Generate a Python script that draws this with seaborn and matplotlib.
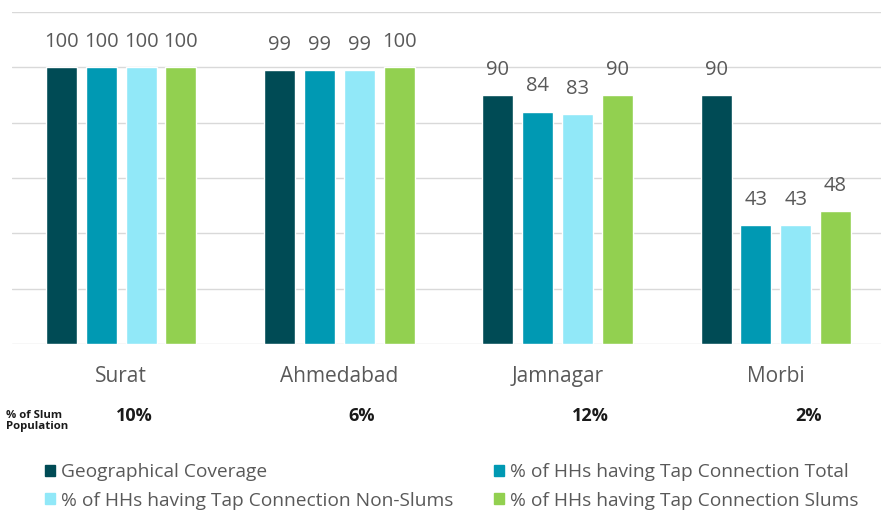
import pandas as pd
import seaborn as sns
import matplotlib.pyplot as plt
import matplotlib.transforms as mtransforms

cities = ['Surat', 'Ahmedabad', 'Jamnagar', 'Morbi']
series = ['Geographical Coverage',
          '% of HHs having Tap Connection Total',
          '% of HHs having Tap Connection Non-Slums',
          '% of HHs having Tap Connection Slums']
geo_coverage = [100, 99, 90, 90]
tap_total = [100, 99, 84, 43]
tap_non_slums = [100, 99, 83, 43]
tap_slums = [100, 100, 90, 48]
slum_population = ['10%', '6%', '12%', '2%']

colors = ['#004b55', '#0099b3', '#91e8f8', '#92d050']

rows = []
for name, vals in zip(series, [geo_coverage, tap_total, tap_non_slums, tap_slums]):
    for city, v in zip(cities, vals):
        rows.append({'City': city, 'Series': name, 'Value': v})
df = pd.DataFrame(rows)

sns.set_theme(style='white')
plt.rcParams['font.family'] = ['Open Sans', 'DejaVu Sans']

fig = plt.figure(figsize=(8.81, 5.13), dpi=100)
ax = fig.add_axes([12 / 881, 1 - 344 / 513, 873 / 881, 332 / 513])

sns.barplot(data=df, x='City', y='Value', hue='Series', hue_order=series,
            order=cities, palette=colors, width=0.73, gap=0.22,
            saturation=1, ax=ax, legend=False)

for cont in ax.containers:
    ax.bar_label(cont, fmt='%d', padding=11, fontsize=14.5, color='#595959')

ax.set_ylim(0, 120)
ax.set_xlim(-0.5, 3.5)
ax.set_yticks(range(0, 121, 20))
ax.set_yticklabels([])
ax.grid(axis='y', color='#d9d9d9', linewidth=1)
ax.set_axisbelow(True)
for s in ax.spines.values():
    s.set_visible(False)
ax.tick_params(axis='x', length=0, pad=16, labelsize=15, labelcolor='#595959')
ax.tick_params(axis='y', length=0)
ax.set_xlabel('')
ax.set_ylabel('')

# slum population row
trans = mtransforms.blended_transform_factory(ax.transData, fig.transFigure)
slum_shift = [0.06, 0.10, 0.15, 0.15]
for i, txt in enumerate(slum_population):
    ax.text(i + slum_shift[i], 1 - 416 / 513, txt, transform=trans,
            ha='center', va='center', fontsize=13, fontweight='bold', color='#1a1a1a')
fig.text(68 / 881, 1 - 421 / 513, '% of Slum\nPopulation', ha='right', va='center',
         multialignment='left', fontsize=8.2, fontweight='bold', color='#1a1a1a',
         linespacing=1.1)

# legend
handles = [plt.Rectangle((0, 0), 1, 1, color=c) for c in colors]
order = [0, 2, 1, 3]
fig.legend([handles[i] for i in order], [series[i] for i in order],
           ncol=2, loc='upper left', bbox_to_anchor=(45 / 881, 1 - 463 / 513),
           frameon=False, fontsize=13.8, labelcolor='#595959',
           handlelength=0.5, handleheight=0.5, handletextpad=0.35,
           columnspacing=2.1, labelspacing=0.55, borderaxespad=0, borderpad=0)

fig.savefig('out.png', dpi=100)
